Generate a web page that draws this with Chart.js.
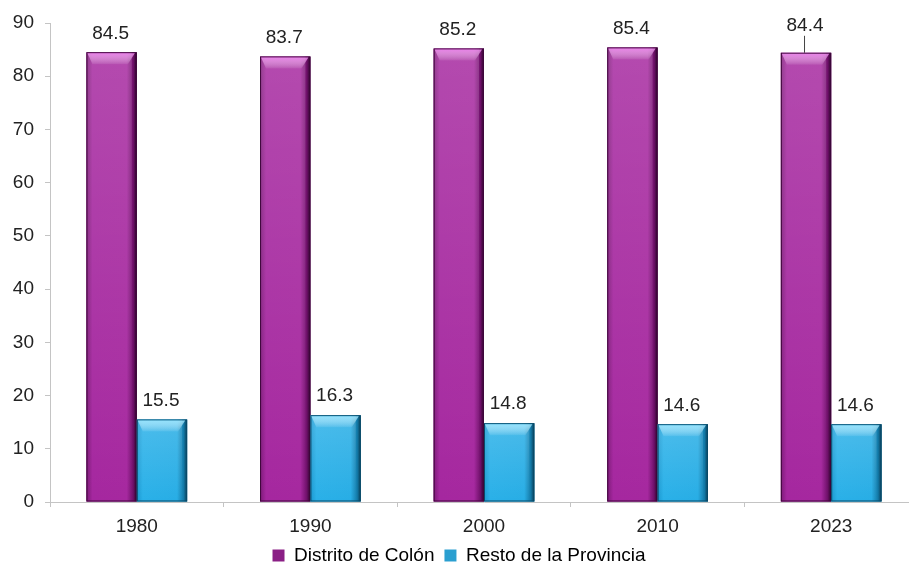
<!DOCTYPE html>
<html>
<head>
<meta charset="utf-8">
<script src="https://cdn.jsdelivr.net/npm/chart.js@4.4.0/dist/chart.umd.min.js"></script>
<style>
  html, body { margin: 0; padding: 0; background: #fff; overflow: hidden; }
  #wrap { width: 909px; height: 565px; overflow: hidden; }
</style>
</head>
<body>
<div id="wrap"><canvas id="chart" width="930" height="575"></canvas></div>
<script>
// Data
const years = ['1980', '1990', '2000', '2010', '2023'];
const colonValues = [84.5, 83.7, 85.2, 85.4, 84.4];
const restoValues = [15.5, 16.3, 14.8, 14.6, 14.6];
const yTicks = [0, 10, 20, 30, 40, 50, 60, 70, 80, 90];

const FONT = 'Liberation Sans, Arial, sans-serif';
const TEXT = '#222222';

// colour stops across the bar width (left -> right), plus top highlight
const shades = [
  { stops: ['#7d1a78', '#a5279f', '#a6289f', '#6e1069', '#2a0428'], light: 'rgba(240,140,240,0.85)', edge: '#3e073b' },
  { stops: ['#1a98d0', '#29b0e8', '#27ade5', '#137aa8', '#083c55'], light: 'rgba(160,232,255,0.85)', edge: '#0a4a68' }
];

// Repaint each bar with a horizontal gradient and a light top bevel
const barShading = {
  id: 'barShading',
  afterDatasetsDraw(chart) {
    const ctx = chart.ctx;
    ctx.save();
    chart.data.datasets.forEach((ds, i) => {
      const s = shades[i].stops;
      chart.getDatasetMeta(i).data.forEach((bar) => {
        const half = bar.width / 2;
        const x0 = bar.x - half, x1 = bar.x + half;
        const top = bar.y, bottom = bar.base;

        const g = ctx.createLinearGradient(x0, 0, x1, 0);
        g.addColorStop(0, s[0]);
        g.addColorStop(0.12, s[1]);
        g.addColorStop(0.8, s[2]);
        g.addColorStop(0.93, s[3]);
        g.addColorStop(1, s[4]);
        ctx.fillStyle = g;
        ctx.fillRect(x0, top, x1 - x0, bottom - top);

        // slightly lighter towards the top
        const vg = ctx.createLinearGradient(0, top, 0, bottom);
        vg.addColorStop(0, 'rgba(255,255,255,0.16)');
        vg.addColorStop(1, 'rgba(255,255,255,0)');
        ctx.fillStyle = vg;
        ctx.fillRect(x0, top, x1 - x0 - 5, bottom - top);

        ctx.strokeStyle = shades[i].edge;
        ctx.lineWidth = 1;
        ctx.strokeRect(x0 + 0.5, top + 0.5, x1 - x0 - 1, bottom - top - 1);

        const l = x0 + 6, r = x1 - 9;
        const hg = ctx.createLinearGradient(0, top + 1, 0, top + 13);
        hg.addColorStop(0, shades[i].light);
        hg.addColorStop(1, 'rgba(255,255,255,0)');
        ctx.fillStyle = hg;
        ctx.beginPath();
        ctx.moveTo(x0 + 1, top + 1);
        ctx.lineTo(x1 - 2, top + 1);
        ctx.lineTo(r, top + 12);
        ctx.lineTo(l, top + 12);
        ctx.closePath();
        ctx.fill();
      });
    });
    ctx.restore();
  }
};

// Value labels above each bar
const valueLabels = {
  id: 'valueLabels',
  afterDatasetsDraw(chart) {
    const ctx = chart.ctx;
    ctx.save();
    ctx.font = '19px ' + FONT;
    ctx.fillStyle = TEXT;
    ctx.textAlign = 'center';
    ctx.textBaseline = 'middle';
    chart.data.datasets.forEach((ds, i) => {
      chart.getDatasetMeta(i).data.forEach((bar, j) => {
        // last purple label sits a bit higher with a small leader line
        const lifted = (i === 0 && j === ds.data.length - 1);
        const ty = bar.y - (lifted ? 27 : 19);
        ctx.fillText(ds.data[j].toFixed(1), bar.x - 1, ty);
        if (lifted) {
          ctx.strokeStyle = '#444';
          ctx.lineWidth = 1;
          ctx.beginPath();
          ctx.moveTo(bar.x - 1.5, ty + 10);
          ctx.lineTo(bar.x - 1.5, bar.y);
          ctx.stroke();
        }
      });
    });
    ctx.restore();
  }
};

const ctx = document.getElementById('chart').getContext('2d');

new Chart(ctx, {
  type: 'bar',
  data: {
    labels: years,
    datasets: [
      {
        label: 'Distrito de Colón',
        data: colonValues,
        backgroundColor: '#a5279f',
        borderWidth: 0,
        legendColor: '#8a1f85'
      },
      {
        label: 'Resto de la Provincia',
        data: restoValues,
        backgroundColor: '#29b0e8',
        borderWidth: 0,
        legendColor: '#2a9fd0'
      }
    ]
  },
  options: {
    responsive: false,
    animation: false,
    layout: {
      padding: { top: 23, right: 12, left: 0, bottom: 0 }
    },
    datasets: {
      bar: {
        categoryPercentage: 0.58,
        barPercentage: 1.0
      }
    },
    scales: {
      x: {
        offset: true,
        grid: {
          display: true,
          drawOnChartArea: false,
          offset: true,
          tickLength: 5,
          color: '#c4c4c4'
        },
        border: { color: '#c4c4c4', width: 1 },
        ticks: {
          color: TEXT,
          font: { size: 19, family: FONT },
          padding: 8
        },
        afterFit(scale) { scale.height = 34; }
      },
      y: {
        min: 0,
        max: 90,
        afterBuildTicks(scale) { scale.ticks = yTicks.map(v => ({ value: v })); },
        grid: {
          display: true,
          drawOnChartArea: false,
          tickLength: 5,
          color: '#c4c4c4'
        },
        border: { color: '#c4c4c4', width: 1 },
        ticks: {
          color: TEXT,
          font: { size: 19, family: FONT },
          padding: 11
        },
        afterFit(scale) { scale.width = 50; }
      }
    },
    plugins: {
      legend: {
        position: 'bottom',
        labels: {
          color: TEXT,
          font: { size: 19, family: FONT },
          boxWidth: 12,
          boxHeight: 12,
          padding: 10,
          generateLabels(chart) {
            return chart.data.datasets.map((ds, i) => ({
              text: ds.label,
              fillStyle: ds.legendColor,
              strokeStyle: ds.legendColor,
              lineWidth: 0,
              datasetIndex: i,
              hidden: false
            }));
          }
        }
      },
      tooltip: { enabled: false }
    }
  },
  plugins: [barShading, valueLabels]
});
</script>
</body>
</html>
